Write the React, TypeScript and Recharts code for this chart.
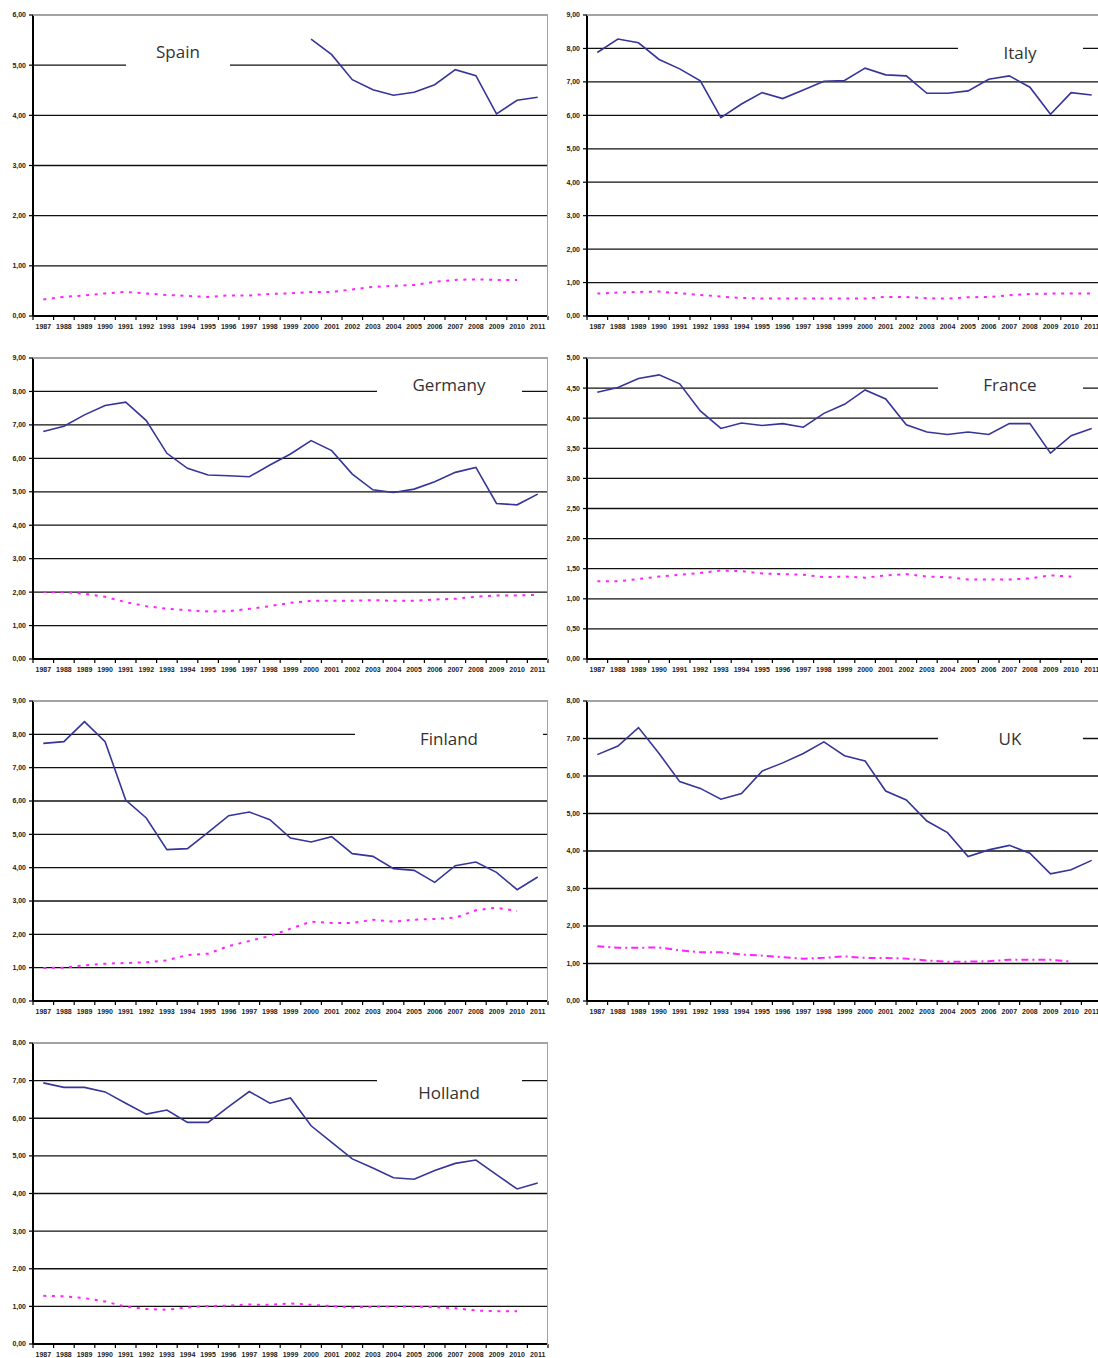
import React from 'react';
import { LineChart, Line, XAxis, YAxis, CartesianGrid } from 'recharts';

const years = [
  '1987', '1988', '1989', '1990', '1991', '1992', '1993', '1994', '1995', '1996', '1997', '1998', '1999',
  '2000', '2001', '2002', '2003', '2004', '2005', '2006', '2007', '2008', '2009', '2010', '2011',
];

// y axis ticks
const ticks5 = [0, 0.5, 1, 1.5, 2, 2.5, 3, 3.5, 4, 4.5, 5];
const ticks6 = [0, 1, 2, 3, 4, 5, 6];
const ticks8 = [0, 1, 2, 3, 4, 5, 6, 7, 8];
const ticks9 = [0, 1, 2, 3, 4, 5, 6, 7, 8, 9];

const spainBlue = [null, null, null, null, null, null, null, null, null, null, null, null, null,
  5.52, 5.21, 4.71, 4.51, 4.40, 4.46, 4.61, 4.91, 4.79, 4.03, 4.30, 4.36];
const spainPink = [0.33, 0.38, 0.41, 0.45, 0.48, 0.45, 0.42, 0.40, 0.38, 0.41, 0.41, 0.44, 0.45,
  0.48, 0.48, 0.53, 0.58, 0.60, 0.62, 0.68, 0.72, 0.73, 0.72, 0.72, null];

const italyBlue = [7.88, 8.28, 8.17, 7.67, 7.39, 7.03, 5.93, 6.34, 6.68, 6.50, 6.76, 7.02, 7.04,
  7.41, 7.21, 7.18, 6.66, 6.66, 6.73, 7.08, 7.18, 6.84, 6.03, 6.68, 6.61];
const italyPink = [0.67, 0.70, 0.72, 0.73, 0.68, 0.63, 0.58, 0.54, 0.52, 0.52, 0.52, 0.52, 0.52,
  0.52, 0.57, 0.57, 0.53, 0.52, 0.56, 0.57, 0.62, 0.66, 0.67, 0.67, 0.67];

const germanyBlue = [6.80, 6.96, 7.30, 7.58, 7.68, 7.13, 6.15, 5.70, 5.50, 5.48, 5.45, 5.80, 6.13,
  6.53, 6.23, 5.53, 5.06, 4.98, 5.08, 5.30, 5.58, 5.73, 4.65, 4.61, 4.93];
const germanyPink = [2.00, 2.00, 1.95, 1.86, 1.70, 1.58, 1.50, 1.46, 1.42, 1.43, 1.50, 1.58, 1.68,
  1.74, 1.74, 1.74, 1.76, 1.74, 1.74, 1.78, 1.80, 1.86, 1.90, 1.90, 1.92];

const franceBlue = [4.43, 4.51, 4.66, 4.72, 4.57, 4.12, 3.83, 3.92, 3.88, 3.91, 3.85, 4.08, 4.23,
  4.47, 4.32, 3.89, 3.77, 3.73, 3.77, 3.73, 3.91, 3.91, 3.42, 3.71, 3.83];
const francePink = [1.29, 1.29, 1.33, 1.37, 1.40, 1.43, 1.47, 1.46, 1.42, 1.41, 1.40, 1.36, 1.37,
  1.35, 1.39, 1.41, 1.37, 1.36, 1.32, 1.32, 1.32, 1.34, 1.39, 1.37, null];

const finlandBlue = [7.73, 7.78, 8.38, 7.78, 6.03, 5.49, 4.54, 4.57, 5.06, 5.56, 5.67, 5.44, 4.89,
  4.77, 4.93, 4.42, 4.34, 3.97, 3.92, 3.56, 4.06, 4.17, 3.86, 3.34, 3.72];
const finlandPink = [0.99, 1.00, 1.07, 1.12, 1.14, 1.16, 1.22, 1.38, 1.42, 1.65, 1.80, 1.95, 2.17,
  2.38, 2.34, 2.34, 2.44, 2.38, 2.44, 2.46, 2.50, 2.72, 2.80, 2.70, null];

const ukBlue = [6.57, 6.80, 7.29, 6.60, 5.85, 5.67, 5.38, 5.53, 6.13, 6.35, 6.60, 6.91, 6.54,
  6.40, 5.60, 5.36, 4.80, 4.49, 3.85, 4.03, 4.15, 3.94, 3.39, 3.50, 3.75];
const ukPink = [1.46, 1.42, 1.42, 1.43, 1.35, 1.30, 1.30, 1.24, 1.21, 1.17, 1.13, 1.15, 1.19,
  1.15, 1.15, 1.13, 1.08, 1.05, 1.05, 1.06, 1.10, 1.10, 1.10, 1.05, null];

const hollandBlue = [6.94, 6.82, 6.82, 6.70, 6.40, 6.11, 6.22, 5.89, 5.89, 6.31, 6.71, 6.40, 6.54,
  5.80, 5.36, 4.92, 4.68, 4.42, 4.38, 4.61, 4.80, 4.89, 4.50, 4.12, 4.28];
const hollandPink = [1.28, 1.27, 1.22, 1.13, 0.99, 0.93, 0.91, 0.97, 1.01, 1.02, 1.05, 1.04, 1.08,
  1.04, 1.01, 0.97, 0.99, 1.00, 0.99, 0.98, 0.95, 0.89, 0.87, 0.87, null];

const PLOT_W = 515;
const AXIS_W = 33;
const BAND = PLOT_W / years.length;
const BLUE = '#35359a';
const PINK = '#ff22ff';
const tickFont = { fontFamily: 'Liberation Sans, Arial, sans-serif', fontSize: 7, fontWeight: 700, fill: '#222' };

const fmt = (v: number) => v.toFixed(2).replace('.', ',');

const XTick = (props: any) => {
  const { x, y, payload } = props;
  const half = BAND / 2;
  const last = payload.value === years[years.length - 1];
  return (
    <g>
      <line x1={x - half} y1={y} x2={x - half} y2={y + 4} stroke="#000" strokeWidth={1.2} />
      {last && <line x1={x + half} y1={y} x2={x + half} y2={y + 4} stroke="#000" strokeWidth={1.2} />}
      <text x={x} y={y + 13} textAnchor="middle" {...tickFont}>
        {payload.value}
      </text>
    </g>
  );
};

interface PanelProps {
  title: string;
  blue: (number | null)[];
  pink: (number | null)[];
  yTicks: number[];
  left: number;
  top: number;
  height: number;
  titleX: number;
  titleY: number;
  boxW: number;
  dash: string;
}

const Panel = ({ title, blue, pink, yTicks, left, top, height, titleX, titleY, boxW, dash }: PanelProps) => {
  const data = years.map((year, i) => ({ year, blue: blue[i], pink: pink[i] }));
  return (
    <>
      <div style={{ position: 'absolute', left: left - AXIS_W, top: top - 5 }}>
        <LineChart
          width={AXIS_W + PLOT_W + 6}
          height={height + 5 + 22}
          data={data}
          margin={{ top: 5, right: 6, left: 0, bottom: 0 }}
        >
          <CartesianGrid vertical={false} stroke="#111" strokeWidth={1.3} />
          <XAxis
            dataKey="year"
            interval={0}
            height={22}
            padding={{ left: BAND / 2, right: BAND / 2 }}
            tickSize={0}
            tickMargin={0}
            tickLine={false}
            axisLine={{ stroke: '#000', strokeWidth: 2 }}
            tick={<XTick />}
          />
          <YAxis
            domain={[0, yTicks[yTicks.length - 1]]}
            ticks={yTicks}
            interval={0}
            width={AXIS_W}
            tickSize={4}
            tickMargin={3}
            tickFormatter={fmt}
            tick={tickFont}
            tickLine={{ stroke: '#000', strokeWidth: 1.2 }}
            axisLine={{ stroke: '#000', strokeWidth: 2 }}
          />
          <Line
            dataKey="pink"
            stroke={PINK}
            strokeWidth={2}
            strokeDasharray={dash}
            dot={false}
            activeDot={false}
            isAnimationActive={false}
          />
          <Line
            dataKey="blue"
            stroke={BLUE}
            strokeWidth={1.6}
            dot={false}
            activeDot={false}
            isAnimationActive={false}
          />
        </LineChart>
      </div>
      <div
        style={{
          position: 'absolute',
          left,
          top: top - 1,
          width: PLOT_W - 1,
          height,
          borderTop: '2px solid #a3a3a3',
          borderRight: '1.5px solid #a3a3a3',
          pointerEvents: 'none',
        }}
      />
      <div
        style={{
          position: 'absolute',
          left: titleX - boxW / 2,
          top: titleY - 16,
          width: boxW,
          height: 34,
          background: '#fff',
          display: 'flex',
          alignItems: 'center',
          justifyContent: 'center',
          fontFamily: '"Open Sans", Lato, sans-serif',
          fontSize: 17,
          color: '#333',
          paddingBottom: 2,
          boxSizing: 'border-box',
        }}
      >
        {title}
      </div>
    </>
  );
};

const DOT = '3 5.6';
const DASH_DOT = '7 4 2 4';

export default function App() {
  return (
    <div
      style={{
        position: 'absolute',
        left: 0,
        top: 0,
        width: 1098,
        height: 1358,
        overflow: 'hidden',
        background: '#fff',
      }}
    >
      <Panel title="Spain" blue={spainBlue} pink={spainPink} yTicks={ticks6} left={33} top={15} height={301}
        titleX={178} titleY={51} boxW={104} dash={DOT} />
      <Panel title="Italy" blue={italyBlue} pink={italyPink} yTicks={ticks9} left={587} top={15} height={301}
        titleX={1020} titleY={52} boxW={125} dash={DOT} />
      <Panel title="Germany" blue={germanyBlue} pink={germanyPink} yTicks={ticks9} left={33} top={358} height={301}
        titleX={449} titleY={384} boxW={145} dash={DOT} />
      <Panel title="France" blue={franceBlue} pink={francePink} yTicks={ticks5} left={587} top={358} height={301}
        titleX={1010} titleY={384} boxW={145} dash={DOT} />
      <Panel title="Finland" blue={finlandBlue} pink={finlandPink} yTicks={ticks9} left={33} top={701} height={300}
        titleX={449} titleY={738} boxW={188} dash={DOT} />
      <Panel title="UK" blue={ukBlue} pink={ukPink} yTicks={ticks8} left={587} top={701} height={300}
        titleX={1010} titleY={738} boxW={145} dash={DASH_DOT} />
      <Panel title="Holland" blue={hollandBlue} pink={hollandPink} yTicks={ticks8} left={33} top={1043} height={301}
        titleX={449} titleY={1092} boxW={145} dash={DOT} />
    </div>
  );
}
